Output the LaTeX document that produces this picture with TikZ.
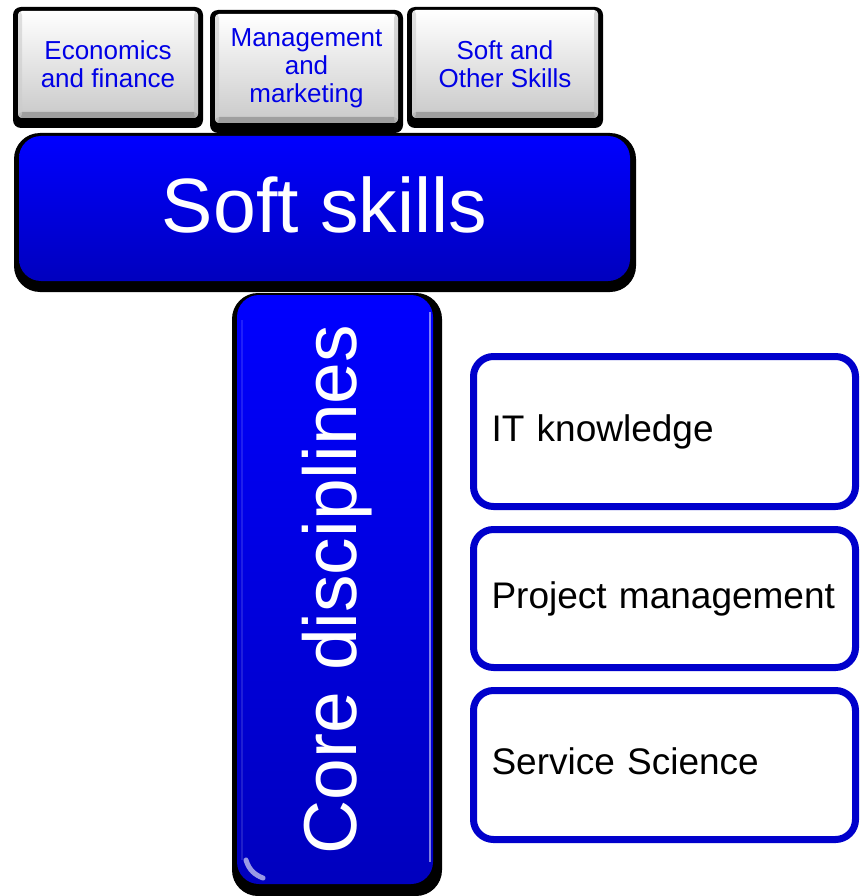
\documentclass[tikz,border=0pt]{standalone}
\usepackage{fontspec}
\setmainfont{Liberation Sans}
\usepackage{graphicx}
\definecolor{bblue}{HTML}{0000CC}
\definecolor{topblue}{HTML}{0000FF}
\definecolor{botblue}{HTML}{0000BE}
\definecolor{tabtext}{HTML}{0000E6}
\begin{document}
\begin{tikzpicture}[x=1pt,y=-1pt,
  tabshadow/.style={fill=black, rounded corners=8pt},
  tabface/.style={rounded corners=4pt, top color=white, middle color=gray!8, bottom color=gray!42,
    text=tabtext, font=\fontsize{26}{28}\selectfont, align=center, inner sep=0pt,
    path picture={
      \fill[gray!75] (path picture bounding box.south west) rectangle ([yshift=6pt]path picture bounding box.south east);
      \fill[gray!40, opacity=0.6] (path picture bounding box.south west) rectangle ([xshift=4pt]path picture bounding box.north west);
      \fill[gray!50, opacity=0.6] (path picture bounding box.south east) rectangle ([xshift=-4pt]path picture bounding box.north east);
    }},
  bigshadow/.style={fill=black, rounded corners=26pt},
  bigface/.style={rounded corners=22pt, top color=topblue, bottom color=botblue, text=white,
    font=\fontsize{77}{80}\selectfont, inner sep=0pt},
  itembox/.style={draw=bblue, line width=7pt, rounded corners=20pt, fill=white,
    font=\fontsize{37}{40}\selectfont, align=left, inner xsep=18pt, inner ysep=0pt,
    text height=27pt, text depth=8pt, minimum width=382pt, text width=346pt}
]
\clip (0,0) rectangle (859,896);
\fill[white] (0,0) rectangle (859,896);

% top tabs
\fill[tabshadow] (13,7) rectangle (203,128);
\node[tabface, minimum width=180pt, minimum height=107pt] (econ) at (108,64.5) {Economics\\and finance};
\fill[tabshadow] (210,10) rectangle (403,133);
\node[tabface, minimum width=183pt, minimum height=109pt] (mgmt) at (306.5,68.5) {Management\\and\\marketing};
\fill[tabshadow] (407,7) rectangle (603,128);
\node[tabface, minimum width=186pt, minimum height=108pt] (softother) at (505,64) {Soft and\\Other Skills};

% soft skills bar
\fill[bigshadow] (14,133) rectangle (636,292);
\node[bigface, minimum width=611pt, minimum height=145pt, text depth=8pt] (soft) at (324.5,208.5) {Soft skills};

% core disciplines column
\fill[bigshadow] (232,293) rectangle (442,896);
\node[bigface, minimum width=196pt, minimum height=589pt] (core) at (335,589.5)
  {\hspace*{5pt}\rotatebox{90}{\fontsize{75}{78}\selectfont Core disciplines}};
\draw[white, opacity=0.5, line width=1.5pt] (430,312) -- (430,862);
\draw[white, opacity=0.12, line width=2pt] (242,320) -- (242,860);
\draw[white, opacity=0.6, line width=5pt, line cap=round] (246,860) .. controls (249,870) and (255,875) .. (263,878);

% right items
\node[itembox, minimum height=150pt] (it) at (664.5,431.5) {IT knowledge};
\node[itembox, minimum height=138pt] (pm) at (664.5,598.5) {Project management};
\node[itembox, minimum height=149pt] (ss) at (664.5,765) {Service Science};
\end{tikzpicture}
\end{document}
